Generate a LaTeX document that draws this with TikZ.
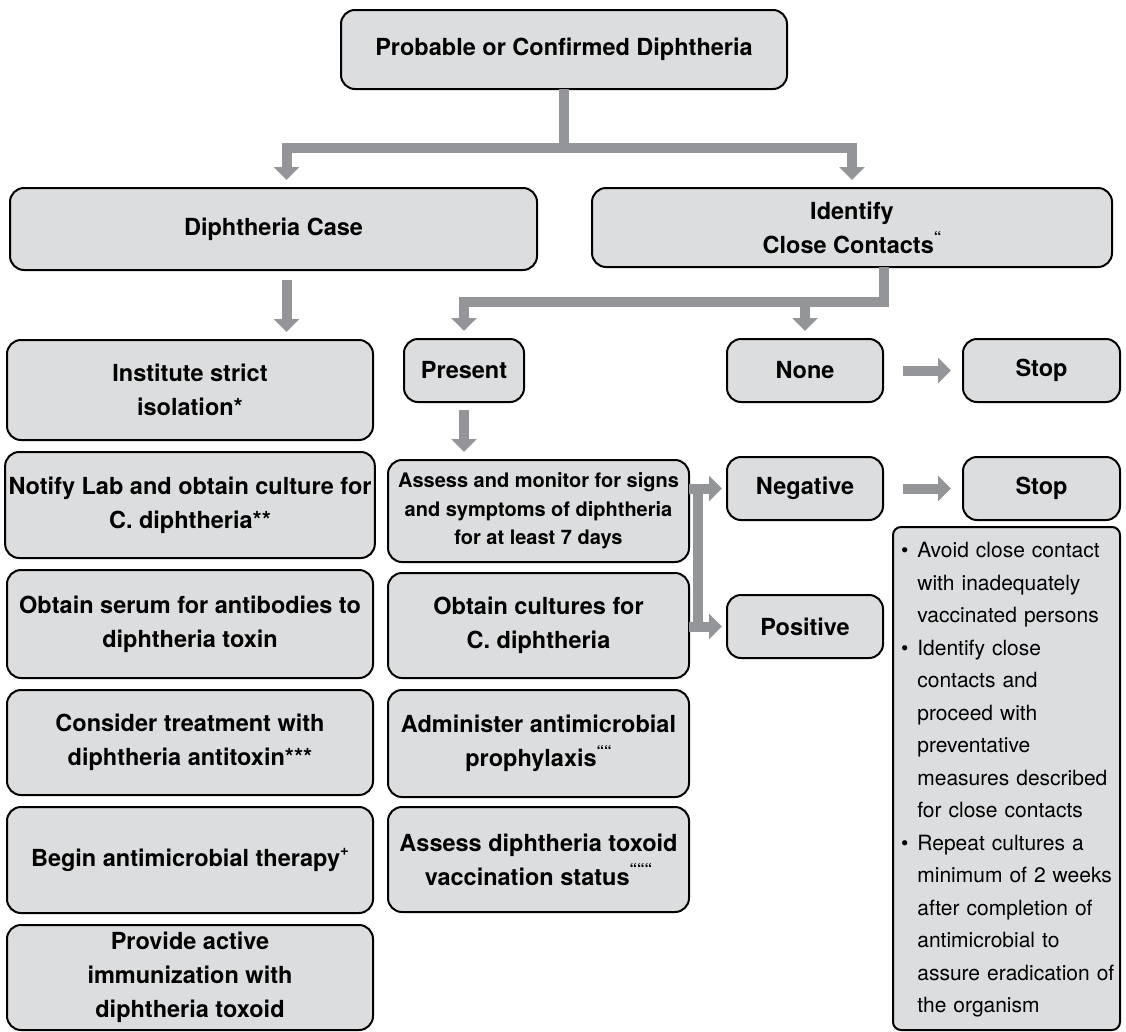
\documentclass[tikz,border=0pt]{standalone}
\usepackage{fontspec}
\setmainfont{TeX Gyre Heros}
\usetikzlibrary{arrows.meta,positioning,calc}
\definecolor{boxFill}{HTML}{DCDDDF}
\definecolor{flowColor}{HTML}{939598}
\newcommand{\fnm}[1]{\raisebox{0.45em}{\fontsize{15}{15}\selectfont #1}}

\begin{document}
\begin{tikzpicture}[x=1pt,y=-1pt,
		box/.style={draw, fill=boxFill, line width=2pt, rounded corners=14pt, outer sep=0,
			align=center, font=\fontsize{23.5}{34}\selectfont\bfseries},
		flow/.style={draw=flowColor, line width=10pt},
		tip/.style={-{Triangle[width=25pt,length=13pt]}, shorten >=8pt}]
	\useasboundingbox (0,0) rectangle (1126,1031);

	% top and the two branches
	\node[box, minimum width=446pt, minimum height=79pt] (top) at (564,49.5) {Probable or Confirmed Diphtheria};
	\node[box, minimum width=527pt, minimum height=82pt] (case) at (273.5,229) {Diphtheria Case};
	\node[box, minimum width=520pt, minimum height=79pt] (cc) at (852,227.5) {Identify\\Close Contacts\fnm{“}};

	% case column
	\node[box, minimum width=366pt, minimum height=100pt] (l1) at (190,390) {Institute strict\\isolation*};
	\node[box, minimum width=366pt, minimum height=106pt] (l2) at (190,505) {Notify Lab and obtain culture for\\C. diphtheria**};
	\node[box, minimum width=366pt, minimum height=108pt] (l3) at (190,624) {Obtain serum for antibodies to\\diphtheria toxin};
	\node[box, minimum width=366pt, minimum height=105pt] (l4) at (190,742.5) {Consider treatment with\\diphtheria antitoxin***};
	\node[box, minimum width=366pt, minimum height=106pt] (l5) at (190,860) {Begin antimicrobial therapy\fnm{+}};
	\node[box, minimum width=366pt, minimum height=105pt] (l6) at (190,977.5) {Provide active\\immunization with\\diphtheria toxoid};

	% contacts
	\node[box, minimum width=120pt, minimum height=63pt] (pres) at (464,370.5) {Present};
	\node[box, minimum width=156pt, minimum height=63pt] (none) at (805,370.5) {None};
	\node[box, minimum width=157pt, minimum height=63pt] (stop1) at (1041.5,370.5) {Stop};

	\node[box, minimum width=301pt, minimum height=102pt, font=\fontsize{20}{28.5}\selectfont\bfseries] (m1) at (538.5,511) {Assess and monitor for signs\\and symptoms of diphtheria\\for at least 7 days};
	\node[box, minimum width=301pt, minimum height=105pt] (m2) at (538.5,625.5) {Obtain cultures for\\C. diphtheria};
	\node[box, minimum width=301pt, minimum height=107pt] (m3) at (538.5,743.5) {Administer antimicrobial\\prophylaxis\fnm{““}};
	\node[box, minimum width=301pt, minimum height=105pt] (m4) at (538.5,859.5) {Assess diphtheria toxoid\\vaccination status\fnm{“““}};

	\node[box, minimum width=156pt, minimum height=63pt] (neg) at (805,488.5) {Negative};
	\node[box, minimum width=157pt, minimum height=63pt] (stop2) at (1041.5,488.5) {Stop};
	\node[box, minimum width=156pt, minimum height=63pt] (pos) at (805,626.5) {Positive};

	\node[box, rounded corners=8pt, text width=211pt, inner xsep=8pt, minimum height=503pt, align=left,
		font=\fontsize{21}{32.5}\selectfont] (notes) at (1006.5,778.5) {%
		\begin{tabular}{@{}l@{\hspace{9pt}}l@{}}
			\textbullet & Avoid close contact\\
			& with inadequately\\
			& vaccinated persons\\
			\textbullet & Identify close\\
			& contacts and\\
			& proceed with\\
			& preventative\\
			& measures described\\
			& for close contacts\\
			\textbullet & Repeat cultures a\\
			& minimum of 2 weeks\\
			& after completion of\\
			& antimicrobial to\\
			& assure eradication of\\
			& the organism
	\end{tabular}};

	% connectors
	\coordinate (j1) at ($(top.south)+(0,59)$);
	\draw[flow, tip] (top.south) -- (j1) -| ([xshift=13pt]case.north);
	\draw[flow, tip] (j1) -| (cc.north);
	\draw[flow, tip, shorten <=10pt] ([xshift=13pt]case.south) -- ([xshift=13pt]case.south |- l1.north);

	\coordinate (j2) at ($(cc.south)+(32,35)$);
	\draw[flow, tip] ($(cc.south)+(32,0)$) -- (j2) -| (pres.north);
	\draw[flow, tip] (j2 -| none.north) -- (none.north);
	\draw[flow, tip, shorten <=8pt] (pres.south) -- (pres.south |- m1.north);

	\draw[flow, tip, shorten <=20pt, shorten >=12pt] (none.east) -- (stop1.west);
	\draw[flow, tip, shorten <=20pt, shorten >=12pt] (neg.east) -- (stop2.west);

	\draw[flow, tip, shorten >=5pt] (m1.east |- neg.west) -- (neg.west);
	\draw[flow, tip, shorten >=5pt] (m2.east |- pos.west) -- (pos.west);
	\draw[flow] ($(m1.east |- neg.west)+(9,0)$) -- ($(m2.east |- pos.west)+(9,0)$);
\end{tikzpicture}
\end{document}
